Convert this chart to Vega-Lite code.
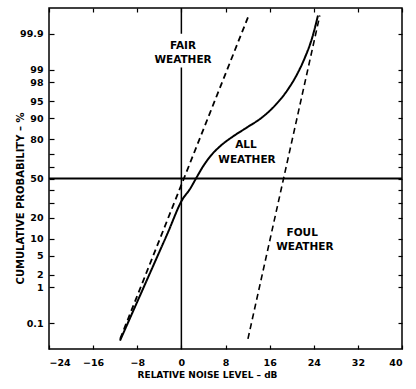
{
  "$schema": "https://vega.github.io/schema/vega-lite/v6.json",
  "width": 353,
  "height": 341,
  "autosize": {"type": "none"},
  "padding": {"left": 49, "top": 8, "right": 14, "bottom": 40},
  "background": "white",
  "config": {
    "font": "DejaVu Sans",
    "view": {"stroke": "black", "strokeWidth": 1.5},
    "axis": {
      "grid": false,
      "domain": false,
      "tickColor": "black",
      "tickWidth": 1.2,
      "labelColor": "black",
      "labelFont": "DejaVu Sans",
      "labelFontWeight": "bold",
      "labelFontSize": 9.5,
      "titleColor": "black",
      "titleFont": "DejaVu Sans",
      "titleFontWeight": "bold"
    }
  },
  "datasets": {
    "curves": [
      {"series": "ALL", "dB": -11.13, "p": 0.0268},
      {"series": "ALL", "dB": -7.34, "p": 0.70},
      {"series": "ALL", "dB": -2.52, "p": 12.0},
      {"series": "ALL", "dB": 0.29, "p": 33.47},
      {"series": "ALL", "dB": 1.5, "p": 40.71},
      {"series": "ALL", "dB": 2.65, "p": 50},
      {"series": "ALL", "dB": 3.92, "p": 60.10},
      {"series": "ALL", "dB": 5.37, "p": 68.83},
      {"series": "ALL", "dB": 7.18, "p": 75.96},
      {"series": "ALL", "dB": 9.35, "p": 81.51},
      {"series": "ALL", "dB": 11.89, "p": 86.21},
      {"series": "ALL", "dB": 14.61, "p": 90.37},
      {"series": "ALL", "dB": 17.15, "p": 94.31},
      {"series": "ALL", "dB": 19.32, "p": 97.14},
      {"series": "ALL", "dB": 20.96, "p": 98.686},
      {"series": "ALL", "dB": 22.41, "p": 99.513},
      {"series": "ALL", "dB": 23.68, "p": 99.861},
      {"series": "ALL", "dB": 24.77, "p": 99.975},
      {"series": "FAIR", "dB": -11.1, "p": 0.031},
      {"series": "FAIR", "dB": 12.07, "p": 99.971},
      {"series": "FOUL", "dB": 12.07, "p": 0.031},
      {"series": "FOUL", "dB": 25.1, "p": 99.975}
    ],
    "refs": [
      {"dB": 0, "p": 0.0136, "p2": 99.115},
      {"dB": 0, "p": 99.9, "p2": 99.9864}
    ],
    "median": [{"p": 50}],
    "labels": [
      {"label": "FAIR", "dB": 0.3, "p": 99.76},
      {"label": "WEATHER", "dB": 0.3, "p": 99.43},
      {"label": "ALL", "dB": 11.7, "p": 75.96},
      {"label": "WEATHER", "dB": 11.9, "p": 64.98},
      {"label": "FOUL", "dB": 21.9, "p": 12.43},
      {"label": "WEATHER", "dB": 22.4, "p": 7.31}
    ]
  },
  "resolve": {"axis": {"x": "independent", "y": "independent"}},
  "layer": [
    {
      "data": {"name": "curves"},
      "transform": [{"calculate": "quantileNormal(datum.p / 100)", "as": "z"}],
      "mark": {"type": "line", "color": "black", "interpolate": "monotone"},
      "encoding": {
        "x": {
          "field": "dB", "type": "quantitative",
          "scale": {"domain": [-24, 40], "nice": false, "zero": false},
          "axis": {
            "orient": "bottom",
            "values": [-24, -16, -8, 0, 8, 16, 24, 32, 40],
            "format": "d",
            "tickSize": -4,
            "labelPadding": 12,
            "title": "RELATIVE NOISE LEVEL – dB",
            "titleFontSize": 9,
            "titleX": 158,
            "titleY": 28,
            "titleBaseline": "alphabetic",
            "titleAnchor": null
          }
        },
        "y": {
          "field": "z", "type": "quantitative",
          "scale": {"domain": [-3.64, 3.64], "nice": false, "zero": false},
          "axis": {
            "orient": "left",
            "values": [-3.090232, -2.326348, -2.053749, -1.644854, -1.281552, -0.841621, -0.524401, -0.253347, 0, 0.253347, 0.524401, 0.841621, 1.281552, 1.644854, 2.053749, 2.326348, 3.090232],
            "labelExpr": "indexof([30, 40, 60, 70], round(cumulativeNormal(datum.value) * 100)) >= 0 ? '' : format(cumulativeNormal(datum.value) * 100, '.3~r')",
            "tickSize": -5,
            "labelPadding": 11,
            "title": "CUMULATIVE PROBABILITY – %",
            "titleFontSize": 10,
            "titleX": -26,
            "titleY": 190,
            "titleAngle": -90,
            "titleBaseline": "alphabetic",
            "titleAlign": "center"
          }
        },
        "detail": {"field": "series"},
        "strokeDash": {
          "field": "series", "type": "nominal",
          "scale": {"domain": ["ALL", "FAIR", "FOUL"], "range": [[1, 0], [6, 4], [6, 4]]},
          "legend": null
        },
        "strokeWidth": {
          "field": "series", "type": "nominal",
          "scale": {"domain": ["ALL", "FAIR", "FOUL"], "range": [2, 1.6, 1.6]},
          "legend": null
        }
      }
    },
    {
      "data": {"name": "median"},
      "transform": [{"calculate": "quantileNormal(datum.p / 100)", "as": "z"}],
      "mark": {"type": "rule", "color": "black", "strokeWidth": 2},
      "encoding": {
        "y": {
          "field": "z", "type": "quantitative",
          "scale": {"domain": [-3.64, 3.64], "nice": false, "zero": false},
          "axis": {
            "orient": "right",
            "values": [-3.090232, -2.326348, -2.053749, -1.644854, -1.281552, -0.841621, -0.524401, -0.253347, 0, 0.253347, 0.524401, 0.841621, 1.281552, 1.644854, 2.053749, 2.326348, 3.090232],
            "labels": false,
            "tickSize": -4,
            "title": null
          }
        }
      }
    },
    {
      "data": {"name": "refs"},
      "transform": [
        {"calculate": "quantileNormal(datum.p / 100)", "as": "z"},
        {"calculate": "quantileNormal(datum.p2 / 100)", "as": "z2"}
      ],
      "mark": {"type": "rule", "color": "black", "strokeWidth": 1.5},
      "encoding": {
        "x": {
          "field": "dB", "type": "quantitative",
          "scale": {"domain": [-24, 40], "nice": false, "zero": false},
          "axis": {
            "orient": "top",
            "values": [-24, -16, -8, 0, 8, 16, 24, 32, 40],
            "labels": false,
            "tickSize": -4,
            "title": null
          }
        },
        "y": {"field": "z", "type": "quantitative", "scale": {"domain": [-3.64, 3.64], "nice": false, "zero": false}, "axis": null},
        "y2": {"field": "z2"}
      }
    },
    {
      "data": {"name": "labels"},
      "transform": [{"calculate": "quantileNormal(datum.p / 100)", "as": "z"}],
      "mark": {"type": "text", "color": "black", "font": "DejaVu Sans", "fontWeight": "bold", "fontSize": 10.5, "align": "center", "baseline": "middle"},
      "encoding": {
        "x": {"field": "dB", "type": "quantitative", "scale": {"domain": [-24, 40], "nice": false, "zero": false}, "axis": null},
        "y": {"field": "z", "type": "quantitative", "scale": {"domain": [-3.64, 3.64], "nice": false, "zero": false}, "axis": null},
        "text": {"field": "label"}
      }
    }
  ]
}
